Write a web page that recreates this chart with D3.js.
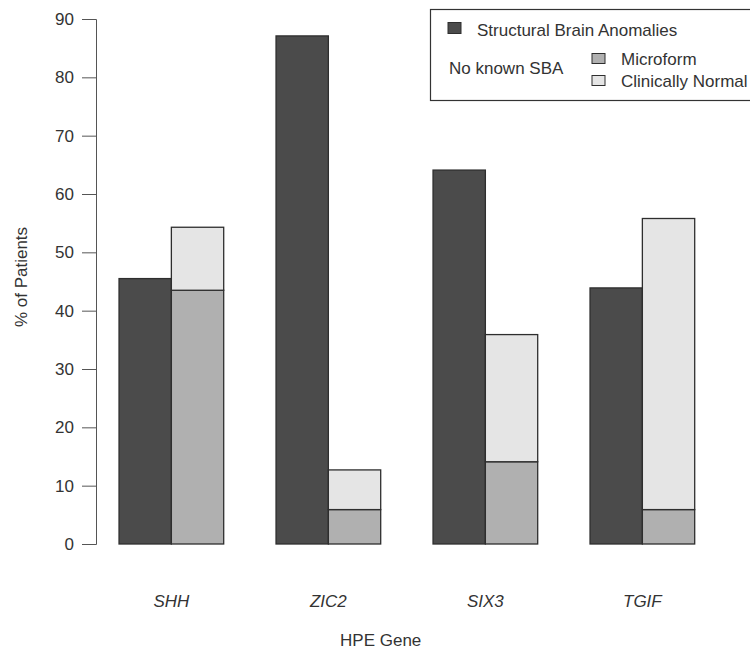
<!DOCTYPE html>
<html lang="en">
<head>
<meta charset="UTF-8">
<title>HPE Gene</title>
<script src="https://d3js.org/d3.v7.min.js"></script>
<style>
  body { margin: 0; background: #fff; }
  svg text { font-family: "Liberation Sans", Arial, sans-serif; fill: #333; }
</style>
</head>
<body>
<div id="chart"></div>
<script>
// data
var genes = ["SHH", "ZIC2", "SIX3", "TGIF"];
var sba = [45.5, 87.1, 64.1, 43.9];        // Structural Brain Anomalies
var microform = [43.5, 5.9, 14.1, 5.9];    // No known SBA - Microform
var normal = [10.8, 6.8, 21.8, 49.9];      // No known SBA - Clinically Normal
var yTicks = [0, 10, 20, 30, 40, 50, 60, 70, 80, 90];

var W = 750, H = 654;
var fs = 17;
var svg = d3.select("#chart").append("svg")
    .attr("width", W).attr("height", H);

// x in bar-width units: each group = 1 space + 2 bars
var x = d3.scaleLinear().domain([0, 12]).range([66.7, 694.7]);
var y = d3.scaleLinear().domain([0, 90]).range([544, 19]);

var cDark = "#4b4b4b", cMid = "#b0b0b0", cLight = "#e5e5e5", cStroke = "#2e2e2e";

// y axis
var yAxis = svg.append("g")
    .attr("transform", "translate(96,0)")
    .call(d3.axisLeft(y).tickValues(yTicks).tickSize(14).tickPadding(8));
yAxis.select(".domain").attr("stroke", "#555");
yAxis.selectAll(".tick line").attr("stroke", "#555");
yAxis.selectAll(".tick text")
    .attr("font-size", fs)
    .attr("fill", "#444")
    .style("font-family", "Liberation Sans, Arial, sans-serif");

var bars = svg.append("g");
genes.forEach(function(g, i) {
  var x0 = 1 + 3 * i;
  bars.append("rect")
    .attr("x", x(x0)).attr("width", x(x0 + 1) - x(x0))
    .attr("y", y(sba[i])).attr("height", y(0) - y(sba[i]))
    .attr("fill", cDark).attr("stroke", cStroke).attr("stroke-width", 1.3);
  bars.append("rect")
    .attr("x", x(x0 + 1)).attr("width", x(x0 + 2) - x(x0 + 1))
    .attr("y", y(microform[i])).attr("height", y(0) - y(microform[i]))
    .attr("fill", cMid).attr("stroke", cStroke).attr("stroke-width", 1.3);
  bars.append("rect")
    .attr("x", x(x0 + 1)).attr("width", x(x0 + 2) - x(x0 + 1))
    .attr("y", y(microform[i] + normal[i])).attr("height", y(microform[i]) - y(microform[i] + normal[i]))
    .attr("fill", cLight).attr("stroke", cStroke).attr("stroke-width", 1.3);

  // gene label centred on the group
  svg.append("text")
    .attr("x", x(x0 + 1)).attr("y", 607)
    .attr("text-anchor", "middle")
    .attr("font-size", fs).attr("font-style", "italic")
    .text(g);
});

// axis titles
svg.append("text")
  .attr("x", x(6)).attr("y", 646)
  .attr("text-anchor", "middle").attr("font-size", fs)
  .text("HPE Gene");
svg.append("text")
  .attr("transform", "translate(27,277) rotate(-90)")
  .attr("text-anchor", "middle").attr("font-size", fs)
  .text("% of Patients");

// legend
var lg = svg.append("g");
lg.append("rect")
  .attr("x", 430.5).attr("y", 9.5).attr("width", 340).attr("height", 91)
  .attr("fill", "#fff").attr("stroke", "#333").attr("stroke-width", 1.2);
lg.append("rect").attr("x", 448).attr("y", 22.5).attr("width", 13).attr("height", 11)
  .attr("fill", cDark).attr("stroke", cStroke);
lg.append("text").attr("x", 477).attr("y", 36).attr("font-size", fs)
  .text("Structural Brain Anomalies");
lg.append("text").attr("x", 449).attr("y", 74).attr("font-size", fs)
  .text("No known SBA");
lg.append("rect").attr("x", 592).attr("y", 53.5).attr("width", 13).attr("height", 10)
  .attr("fill", cMid).attr("stroke", cStroke);
lg.append("text").attr("x", 621).attr("y", 65).attr("font-size", fs)
  .text("Microform");
lg.append("rect").attr("x", 592).attr("y", 75.5).attr("width", 13).attr("height", 10)
  .attr("fill", cLight).attr("stroke", cStroke);
lg.append("text").attr("x", 621).attr("y", 87).attr("font-size", fs)
  .text("Clinically Normal");
</script>
</body>
</html>
